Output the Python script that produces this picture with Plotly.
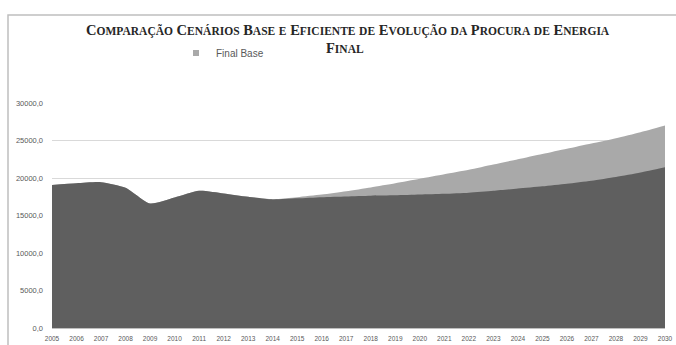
import plotly.graph_objects as go

# Final energy demand (ktep) under the two scenarios
years = list(range(2005, 2031))
final_eficiente = [19070, 19300, 19450, 18700, 16600, 17400, 18300, 17950, 17500, 17150,
                   17300, 17450, 17550, 17650, 17700, 17800, 17900, 18050, 18300, 18600,
                   18900, 19250, 19650, 20150, 20750, 21450]
final_base = [19070, 19300, 19450, 18700, 16600, 17400, 18300, 17950, 17500, 17200,
              17450, 17800, 18250, 18750, 19300, 19900, 20500, 21100, 21800, 22500,
              23200, 23900, 24600, 25300, 26100, 27000]

y_ticks = [0, 5000, 10000, 15000, 20000, 25000, 30000]
y_tick_labels = ["0,0", "5000,0", "10000,0", "15000,0", "20000,0", "25000,0", "30000,0"]

title_line1 = "Comparação Cenários Base e Eficiente de Evolução da Procura de Energia"
title_line2 = "Final"

BASE_COLOR = "#a9a9a9"
EFIC_COLOR = "#5f5f5f"

W, H = 676, 345
ML, MR, MT, MB = 52, 11, 103, 17
PW, PH = W - ML - MR, H - MT - MB


def small_caps(text, small=11.5):
    out = []
    for ch in text:
        if ch.islower():
            out.append(f"<span style='font-size:{small}px'>{ch.upper()}</span>")
        else:
            out.append(ch)
    return "".join(out)


def px_to_paper_x(px):
    return (px - ML) / PW


def px_to_paper_y(py):
    return (H - MB - py) / PH


fig = go.Figure()

fig.add_trace(go.Scatter(
    x=years, y=final_base, name="Final Base", mode="lines",
    line=dict(width=0, color=BASE_COLOR, shape="spline", smoothing=0.6),
    fill="tozeroy", fillcolor=BASE_COLOR, showlegend=False,
))
fig.add_trace(go.Scatter(
    x=years, y=final_eficiente, name="Final Eficiente", mode="lines",
    line=dict(width=0, color=EFIC_COLOR, shape="spline", smoothing=0.6),
    fill="tozeroy", fillcolor=EFIC_COLOR, showlegend=False,
))
# Legend entry with a square swatch
fig.add_trace(go.Scatter(
    x=[None], y=[None], name="Final Base", mode="markers",
    marker=dict(symbol="square", size=6, color=BASE_COLOR), showlegend=True,
))

title_font = dict(family="Liberation Serif", size=14.5, color="#262626")
fig.add_annotation(
    xref="paper", yref="paper", x=px_to_paper_x(348), y=px_to_paper_y(30),
    text="<b>" + small_caps(title_line1) + "</b>", showarrow=False,
    font=title_font, xanchor="center", yanchor="middle",
)
fig.add_annotation(
    xref="paper", yref="paper", x=px_to_paper_x(345), y=px_to_paper_y(48),
    text="<b>" + small_caps(title_line2) + "</b>", showarrow=False,
    font=title_font, xanchor="center", yanchor="middle",
)

# Chart area frame
fig.add_shape(
    type="rect", xref="paper", yref="paper",
    x0=px_to_paper_x(8), x1=px_to_paper_x(690),
    y0=px_to_paper_y(360), y1=px_to_paper_y(15),
    line=dict(color="#bfbfbf", width=1.5), fillcolor="rgba(0,0,0,0)", layer="below",
)

fig.update_layout(
    width=W, height=H,
    margin=dict(l=ML, r=MR, t=MT, b=MB),
    paper_bgcolor="white", plot_bgcolor="white",
    showlegend=True,
    legend=dict(
        x=px_to_paper_x(176), y=px_to_paper_y(53), xanchor="left", yanchor="middle",
        font=dict(family="Liberation Sans", size=10, color="#595959"),
        bgcolor="rgba(0,0,0,0)", itemwidth=30,
    ),
    font=dict(family="Liberation Sans", color="#595959"),
)
fig.update_xaxes(
    range=[2005, 2030], tickvals=years, ticktext=[str(y) for y in years],
    tickfont=dict(size=6.5, color="#595959"), showgrid=False, zeroline=False,
    showline=True, linecolor="#bfbfbf", linewidth=1, ticks="", tickangle=0,
    ticklabelstandoff=4, automargin=False,
)
fig.update_yaxes(
    range=[0, 30000], tickvals=y_ticks, ticktext=y_tick_labels,
    tickfont=dict(size=7.5, color="#595959"), showgrid=True, gridcolor="#d9d9d9",
    gridwidth=1, zeroline=False, showline=False, ticks="",
    ticklabelstandoff=8, automargin=False,
)

fig.write_html("out.html")
